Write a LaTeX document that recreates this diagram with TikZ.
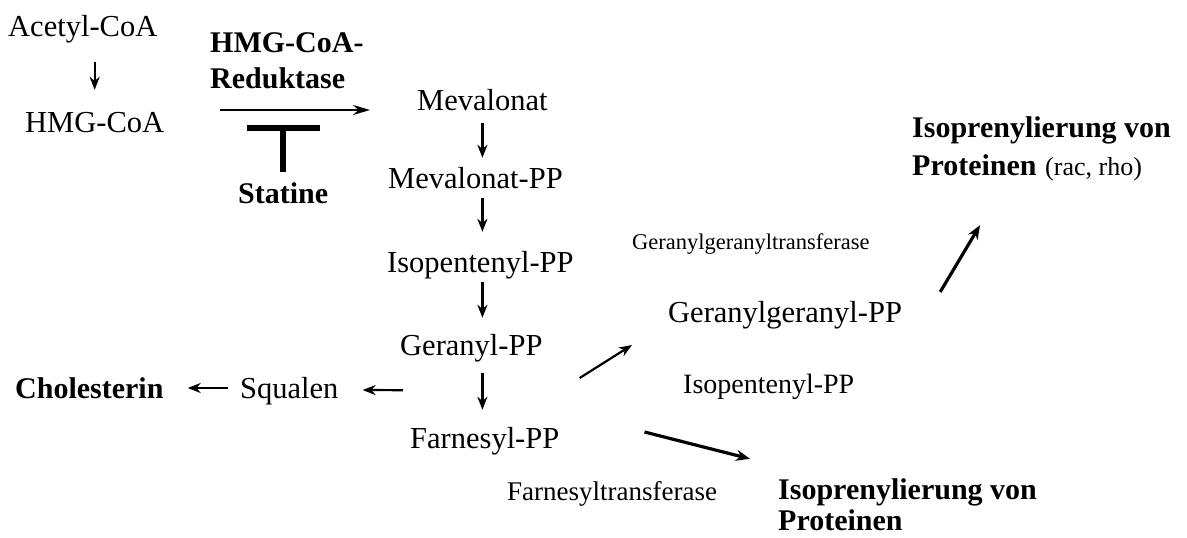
\documentclass[tikz,border=0pt]{standalone}
\usepackage{fontspec}
\setmainfont{Liberation Serif}
\usetikzlibrary{arrows.meta}
\begin{document}
\begin{tikzpicture}[x=1pt,y=-1pt,
  base/.style={inner sep=0pt, anchor=base west, text height=21pt, text depth=7pt},
  main/.style={base, font=\fontsize{30.5}{36}\selectfont},
  bmain/.style={base, font=\fontsize{30}{36}\selectfont\bfseries},
  ggt/.style={base, font=\fontsize{22.5}{27}\selectfont},
  ipps/.style={base, font=\fontsize{28}{33}\selectfont},
  ft/.style={base, font=\fontsize{27}{32}\selectfont},
  racs/.style={base, font=\fontsize{26}{31}\selectfont},
  arr/.style={-{Stealth[length=13pt,width=10pt]}, line width=2.2pt},
  longarr/.style={-{Stealth[length=17pt,width=10pt]}, line width=2pt},
  thickarr/.style={-{Stealth[length=14pt,width=11pt]}, line width=3.2pt},
  inh/.style={line width=5.5pt}
]
\useasboundingbox (0,0) rectangle (1187,538);
\node[main] (acetyl) at (8,36) {Acetyl-CoA};
\node[main] (hmg) at (25,132) {HMG-CoA};
\node[bmain] (enz1) at (210,52) {HMG-CoA-};
\node[bmain] (enz2) at (210,88) {Reduktase};
\node[bmain] (stat) at (238,203) {Statine};
\node[main] (mev) at (417,110) {Mevalonat};
\node[main] (mevpp) at (388,188) {Mevalonat-PP};
\node[main] (ipp) at (387,272) {Isopentenyl-PP};
\node[main] (ger) at (400,355) {Geranyl-PP};
\node[main] (far) at (410,448) {Farnesyl-PP};
\node[main] (squal) at (240,398) {Squalen};
\node[bmain] (chol) at (15,398) {Cholesterin};
\node[main] (ggpp) at (668,322) {Geranylgeranyl-PP};
\node[ggt] (ggtr) at (632,249) {Geranylgeranyltransferase};
\node[ipps] (ipp2) at (683,393) {Isopentenyl-PP};
\node[ft] (ftr) at (507,500) {Farnesyltransferase};
\node[bmain] (isoA) at (912,137) {Isoprenylierung von};
\node[bmain] (protA) at (912,175) {Proteinen};
\node[racs] (rac) at (1045,175) {(rac, rho)};
\node[bmain] (isoB) at (778,499) {Isoprenylierung von};
\node[bmain, text depth=0pt] (protB) at (778,530) {Proteinen};

\draw[arr] ([yshift=-19pt]hmg.north |- acetyl.south) -- ([yshift=21pt]hmg.north);
\draw[longarr] ([xshift=56pt,yshift=15pt]hmg.east) -- ([xshift=-47pt,yshift=-7pt]mev.west);
\draw[inh] ([yshift=10pt]stat.north) -- ([yshift=54pt]stat.north);
\draw[inh] ([xshift=-36pt,yshift=54pt]stat.north) -- ([xshift=37pt,yshift=54pt]stat.north);

\draw[arr] ([yshift=-6pt]mev.south) -- ([yshift=9pt]mev.south |- mevpp.north);
\draw[arr] ([yshift=-3pt]mev.south |- mevpp.south) -- ([yshift=19pt]mev.south |- ipp.north);
\draw[arr] ([yshift=-3pt]mev.south |- ipp.south) -- ([yshift=16pt]mev.south |- ger.north);
\draw[arr] ([yshift=-11pt]mev.south |- ger.south) -- ([yshift=17pt]mev.south |- far.north);

\draw[arr] ([xshift=-12pt,yshift=3pt]squal.west) -- ([xshift=24pt,yshift=3pt]chol.east);
\draw[arr] ([xshift=3pt,yshift=-28pt]ger.south west) -- ([xshift=24pt,yshift=1pt]squal.east);
\draw[arr] ([xshift=37pt,yshift=-30pt]ger.east) -- ([xshift=-36pt,yshift=-30pt]ggpp.west);
\draw[thickarr] ([xshift=38pt,yshift=23pt]ggpp.east) -- ([xshift=68pt,yshift=-43pt]protA.south west);
\draw[thickarr] ([xshift=85pt,yshift=9pt]far.east) -- ([xshift=-28pt,yshift=19pt]isoB.north west);
\end{tikzpicture}
\end{document}
